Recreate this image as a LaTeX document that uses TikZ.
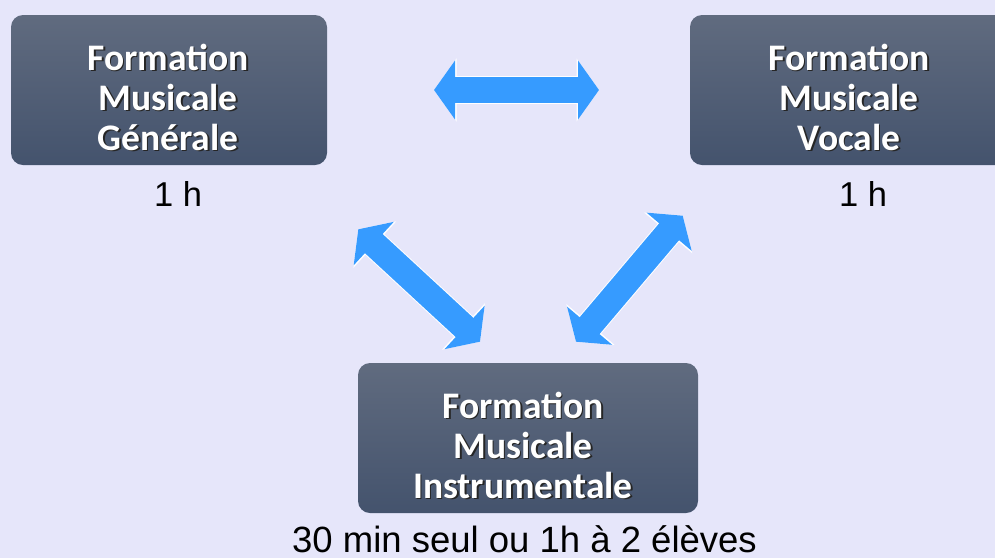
\documentclass[tikz,border=0pt]{standalone}
\usepackage{fontspec}
\setmainfont{Liberation Sans}
\newfontfamily\boxfont{Carlito}
\usetikzlibrary{arrows.meta}
\definecolor{bgcol}{RGB}{230,230,250}
\definecolor{boxtop}{RGB}{96,107,127}
\definecolor{boxbot}{RGB}{68,83,109}
\definecolor{arrcol}{RGB}{54,155,255}
\newcommand\shtxt[1]{\rlap{\raisebox{-1.6pt}{\kern1.6pt\textcolor{black!85}{#1}}}#1}
\tikzset{
  boxshape/.style={rounded corners=12pt, top color=boxtop, bottom color=boxbot, draw=none},
  boxtext/.style={text=white, align=center, font=\boxfont\bfseries\fontsize{37.5}{40}\selectfont, inner sep=0pt},
  lbl/.style={text=black, font=\fontsize{34.5}{38}\selectfont, inner sep=0pt},
  lblbig/.style={text=black, font=\fontsize{36.5}{42}\selectfont, inner sep=0pt},
  blockarrow/.style={line width=26pt, draw=arrcol, {Triangle[length=21pt,width=58pt]}-{Triangle[length=21pt,width=58pt]}},
  blockedge/.style={line width=28pt, draw=white, {Triangle[length=22.5pt,width=62pt]}-{Triangle[length=22.5pt,width=62pt]}}
}
\begin{document}
\begin{tikzpicture}[x=1pt,y=-1pt]
\useasboundingbox (0,0) rectangle (995,558);
\clip (0,0) rectangle (995,558);
\fill[bgcol] (0,0) rectangle (995,558);
% boxes
\path[boxshape] (11,15) rectangle (327,165);
\path[boxshape] (690,15) rectangle (1010,165);
\path[boxshape] (358,363) rectangle (698,513);
\node[boxtext] (fmg) at (168,98) {\shtxt{Formation}\\\shtxt{Musicale}\\\shtxt{Générale}};
\node[boxtext] (fmv) at (849,98) {\shtxt{Formation}\\\shtxt{Musicale}\\\shtxt{Vocale}};
\node[boxtext] (fmi) at (523,446) {\shtxt{Formation}\\\shtxt{Musicale}\\\shtxt{Instrumentale}};
% labels
\node[lbl] (l1) at (178,194) {1 h};
\node[lbl] (l2) at (863,194) {1 h};
\node[lblbig] (l3) at (524.5,539) {30 min seul ou 1h à 2 élèves};
% arrow end points
\coordinate (ha) at (434,90);
\coordinate (hb) at (599,90);
\coordinate (la) at (358.3,229.3);
\coordinate (lb) at (480,341.7);
\coordinate (ra) at (682.7,215.7);
\coordinate (rb) at (576,341.7);
\foreach \a/\b in {ha/hb, la/lb, ra/rb}{
  \draw[blockedge] (\a) -- (\b);
  \draw[blockarrow] (\a) -- (\b);
}
\end{tikzpicture}
\end{document}
